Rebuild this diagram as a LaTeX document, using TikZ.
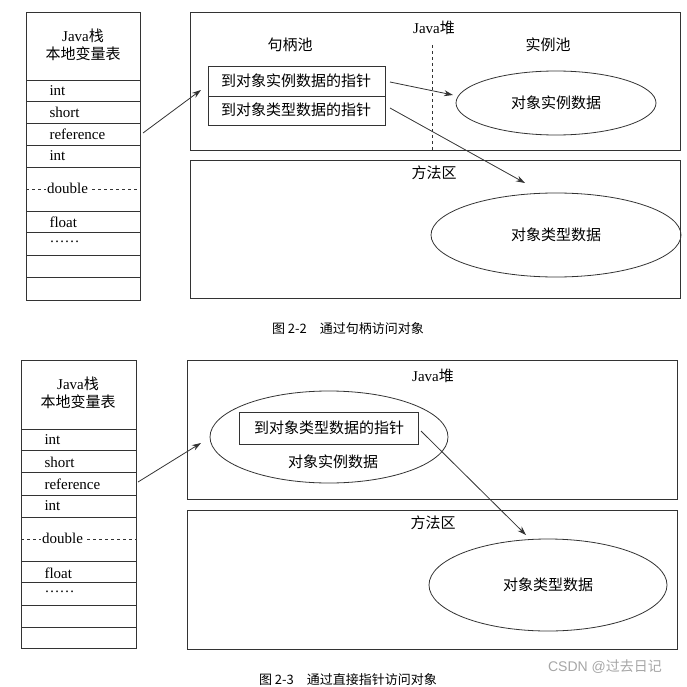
\documentclass[tikz,border=0pt]{standalone}
\usepackage{fontspec}
\usetikzlibrary{shapes.geometric,arrows.meta}
\setmainfont{Liberation Serif}
\newfontfamily\cjk{Noto Sans CJK SC}
\begin{document}
\begin{tikzpicture}[x=1pt,y=-1pt,
  ln/.style={draw=black!80,line width=0.8pt},
  lab/.style={font=\fontsize{15}{17}\selectfont},
  cl/.style={font=\cjk\fontsize{15}{18}\selectfont},
  arr/.style={ln,-{Stealth[length=9pt,width=6pt]}}]
\useasboundingbox (0,0) rectangle (687,687);
% ===== Top diagram =====
\draw[ln] (26,12) rectangle (140,300);
\node[cl,align=center] (h1) at (83,45) {\fontspec{Liberation Serif}Java\cjk 栈\\本地变量表};
\foreach \y in {80,101,123,145,167,211,232,255,277}{\draw[ln] (26,\y) -- (140,\y);}
\draw[ln,dashed] (26,189) -- (140,189);
\node[lab,anchor=west] (a1) at (46,91) {int};
\node[lab,anchor=west] (a2) at (46,112) {short};
\node[lab,anchor=west] (a3) at (46,134) {reference};
\node[lab,anchor=west] (a4) at (46,156) {int};
\node[lab,anchor=west,fill=white,inner xsep=1pt] (a5) at (46,188) {double};
\node[lab,anchor=west] (a6) at (46,222) {float};
\node[lab,anchor=west] (a7) at (46,242) {……};
\coordinate (s1) at (143,133);
\draw[ln] (190,12) rectangle (680,150);
\node[cl] (j1) at (434,28) {\fontspec{Liberation Serif}Java\cjk 堆};
\node[cl] (p1) at (290,45) {句柄池};
\node[cl] (p2) at (548,45) {实例池};
\draw[ln,dashed] (432,45) -- (432,150);
\draw[ln] (208,66) rectangle (385,125);
\draw[ln] (208,96) -- (385,96);
\node[cl] (b1) at (296,81) {到对象实例数据的指针};
\node[cl] (b2) at (296,110) {到对象类型数据的指针};
\coordinate (hb) at (201,90);
\draw[arr] (s1) -- (hb);
\node[ln,ellipse,minimum width=200pt,minimum height=64pt,cl] (e1) at (556,103) {对象实例数据};
\draw[ln] (190,160) rectangle (680,298);
\node[cl] (m1) at (434,173) {方法区};
\node[ln,ellipse,minimum width=250pt,minimum height=84pt,cl] (e2) at (556,235) {对象类型数据};
\draw[arr] (390,82) -- (453,95);
\draw[arr] (390,108) -- (525,183);
\node[cl,font=\cjk\fontsize{13}{15}\selectfont] (c1) at (348,329) {图 2-2\quad 通过句柄访问对象};
% ===== Bottom diagram =====
\draw[ln] (21,360) rectangle (136,648);
\node[cl,align=center] (h2) at (78,393) {\fontspec{Liberation Serif}Java\cjk 栈\\本地变量表};
\foreach \y in {429,450,472,495,517,561,582,605,627}{\draw[ln] (21,\y) -- (136,\y);}
\draw[ln,dashed] (21,539) -- (136,539);
\node[lab,anchor=west] (d1) at (41,440) {int};
\node[lab,anchor=west] (d2) at (41,462) {short};
\node[lab,anchor=west] (d3) at (41,484) {reference};
\node[lab,anchor=west] (d4) at (41,506) {int};
\node[lab,anchor=west,fill=white,inner xsep=1pt] (d5) at (41,538) {double};
\node[lab,anchor=west] (d6) at (41,573) {float};
\node[lab,anchor=west] (d7) at (41,592) {……};
\draw[ln] (187,360) rectangle (677,499);
\node[cl] (j2) at (433,376) {\fontspec{Liberation Serif}Java\cjk 堆};
\node[ln,ellipse,minimum width=238pt,minimum height=92pt] (e3) at (329,437) {};
\node[ln,cl,minimum width=179pt,minimum height=32pt,inner sep=0pt] (b3) at (329,428) {到对象类型数据的指针};
\node[cl] (t3) at (333,462) {对象实例数据};
\coordinate (s2) at (138,482);
\coordinate (eb) at (201,443);
\draw[arr] (s2) -- (eb);
\draw[ln] (187,510) rectangle (677,649);
\node[cl] (m2) at (433,523) {方法区};
\node[ln,ellipse,minimum width=238pt,minimum height=92pt,cl] (e4) at (548,585) {对象类型数据};
\draw[arr] (421,431) -- (526,535);
\node[cl,font=\cjk\fontsize{13}{15}\selectfont] (c2) at (348,680) {图 2-3\quad 通过直接指针访问对象};
\node[cl,text=black!35,font=\cjk\fontsize{14}{16}\selectfont] (w) at (605,667) {\fontspec{Liberation Sans}CSDN @\cjk 过去日记};
\end{tikzpicture}
\end{document}
